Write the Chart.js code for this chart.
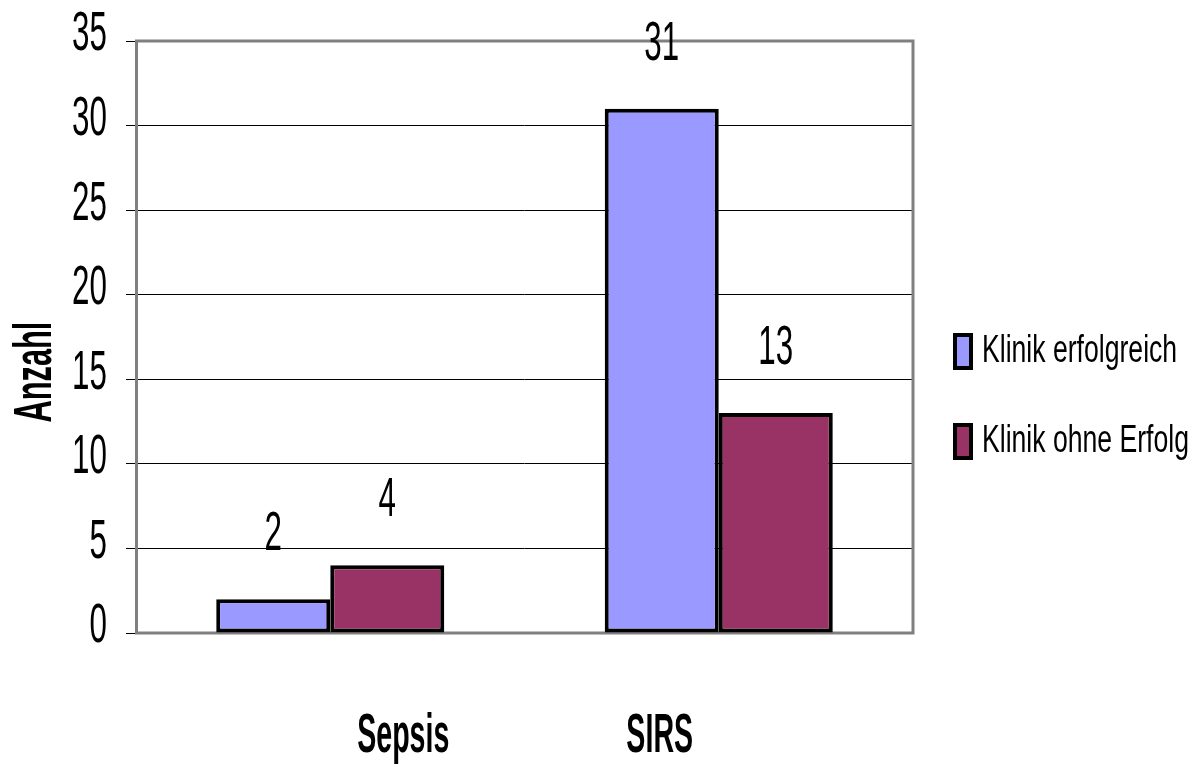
<!DOCTYPE html>
<html lang="de">
<head>
<meta charset="utf-8">
<title>Anzahl – Sepsis und SIRS</title>
<script src="https://cdn.jsdelivr.net/npm/chart.js@4.4.1/dist/chart.umd.min.js"></script>
<style>
  html, body { margin: 0; padding: 0; background: #fff; }
  #wrap { position: relative; width: 1203px; height: 767px; }
</style>
</head>
<body>
<div id="wrap"><canvas id="chart"></canvas></div>
<script>
// ---- data ----
const categories = ['Sepsis', 'SIRS'];
const seriesNames = ['Klinik erfolgreich', 'Klinik ohne Erfolg'];
const erfolgreich = [2, 31];
const ohneErfolg = [4, 13];
const yTicks = [0, 5, 10, 15, 20, 25, 30, 35];
const yTitle = 'Anzahl';

const FONT = "'Liberation Sans', Arial, sans-serif";
const COLORS = ['#9999FF', '#993366'];

// ---- narrow lettering: each text run is squeezed horizontally about its anchor ----
function squeezeFor(font) {
  const m = /([\d.]+)px/.exec(font);
  const size = m ? parseFloat(m[1]) : 12;
  const bold = /bold|[6-9]00/.test(font);
  if (bold && size >= 55) return 0.52;
  if (bold) return 0.58;
  if (size < 45) return 0.7;
  return 0.56;
}
(function () {
  const proto = CanvasRenderingContext2D.prototype;
  const baseFill = proto.fillText;
  const baseMeasure = proto.measureText;
  proto.fillText = function (text, x, y, maxWidth) {
    const s = squeezeFor(this.font);
    this.save();
    this.translate(x, y);
    this.scale(s, 1);
    if (maxWidth !== undefined && maxWidth !== null) baseFill.call(this, text, 0, 0, maxWidth / s);
    else baseFill.call(this, text, 0, 0);
    this.restore();
  };
  proto.measureText = function (text) {
    const m = baseMeasure.call(this, text);
    const s = squeezeFor(this.font);
    return {
      width: m.width * s,
      actualBoundingBoxLeft: m.actualBoundingBoxLeft * s,
      actualBoundingBoxRight: m.actualBoundingBoxRight * s,
      actualBoundingBoxAscent: m.actualBoundingBoxAscent,
      actualBoundingBoxDescent: m.actualBoundingBoxDescent,
      fontBoundingBoxAscent: m.fontBoundingBoxAscent,
      fontBoundingBoxDescent: m.fontBoundingBoxDescent
    };
  };
})();

Chart.defaults.font.family = FONT;
Chart.defaults.color = '#000';

// gray frame around the plot area
const framePlugin = {
  id: 'plotFrame',
  beforeDatasetsDraw(chart) {
    const { ctx, chartArea: a } = chart;
    ctx.save();
    ctx.strokeStyle = '#808080';
    ctx.lineWidth = 3;
    ctx.strokeRect(a.left + 0.5, a.top, a.right - a.left - 0.5, a.bottom - a.top);
    ctx.restore();
  }
};

// numbers above each bar
const valueLabelPlugin = {
  id: 'valueLabels',
  afterDatasetsDraw(chart) {
    const { ctx } = chart;
    ctx.save();
    ctx.font = `normal 56px ${FONT}`;
    ctx.fillStyle = '#000';
    ctx.textAlign = 'center';
    ctx.textBaseline = 'alphabetic';
    chart.data.datasets.forEach((ds, i) => {
      chart.getDatasetMeta(i).data.forEach((bar, j) => {
        ctx.fillText(String(ds.data[j]), bar.x, bar.y - 49);
      });
    });
    ctx.restore();
  }
};

// category names, axis caption and legend
const captionPlugin = {
  id: 'captions',
  afterDraw(chart, args, opts) {
    const { ctx } = chart;
    const xs = chart.scales.x;
    ctx.save();
    ctx.fillStyle = '#000';

    ctx.font = `bold 55px ${FONT}`;
    ctx.textAlign = 'center';
    ctx.textBaseline = 'alphabetic';
    chart.data.labels.forEach((lab, j) => {
      ctx.fillText(lab, xs.getPixelForValue(j) + opts.labelShift[j], 752);
    });

    ctx.save();
    ctx.font = `bold 53px ${FONT}`;
    ctx.translate(51, 372);
    ctx.rotate(-Math.PI / 2);
    ctx.fillText(yTitle, 0, 0);
    ctx.restore();

    ctx.font = `normal 38px ${FONT}`;
    ctx.textAlign = 'left';
    chart.data.datasets.forEach((ds, i) => {
      const top = 333 + i * 90;
      ctx.fillStyle = ds.backgroundColor;
      ctx.fillRect(953, top, 20, 37);
      ctx.strokeStyle = '#000';
      ctx.lineWidth = 4;
      ctx.strokeRect(955, top + 2, 16, 33);
      ctx.fillStyle = '#000';
      ctx.fillText(ds.label, 982, top + 28.5);
    });
    ctx.restore();
  }
};

new Chart(document.getElementById('chart'), {
  type: 'bar',
  data: {
    labels: categories,
    datasets: [
      { label: seriesNames[0], data: erfolgreich, backgroundColor: COLORS[0] },
      { label: seriesNames[1], data: ohneErfolg, backgroundColor: COLORS[1] }
    ]
  },
  options: {
    responsive: true,
    maintainAspectRatio: false,
    animation: false,
    devicePixelRatio: 1,
    layout: { padding: { top: 41, bottom: 134, left: 0, right: 290 } },
    datasets: {
      bar: {
        barPercentage: 1,
        categoryPercentage: 0.587,
        borderColor: '#000',
        borderWidth: 4,
        borderSkipped: false
      }
    },
    plugins: {
      legend: { display: false },
      tooltip: { enabled: false },
      captions: { labelShift: [73, -59] }
    },
    scales: {
      x: { display: false },
      y: {
        min: 0,
        max: 35,
        afterFit(scale) {
          scale.width = 136;
          // outer layout padding already leaves room for the end labels
          scale.paddingTop = 0;
          scale.paddingBottom = 0;
        },
        afterBuildTicks(scale) { scale.ticks = yTicks.map(v => ({ value: v })); },
        border: { display: false },
        grid: { color: '#000', lineWidth: 1, tickColor: '#000', tickLength: 10, drawTicks: true },
        ticks: { font: { size: 56 }, color: '#000', padding: 19, labelOffset: -6 }
      }
    }
  },
  plugins: [framePlugin, valueLabelPlugin, captionPlugin]
});
</script>
</body>
</html>
